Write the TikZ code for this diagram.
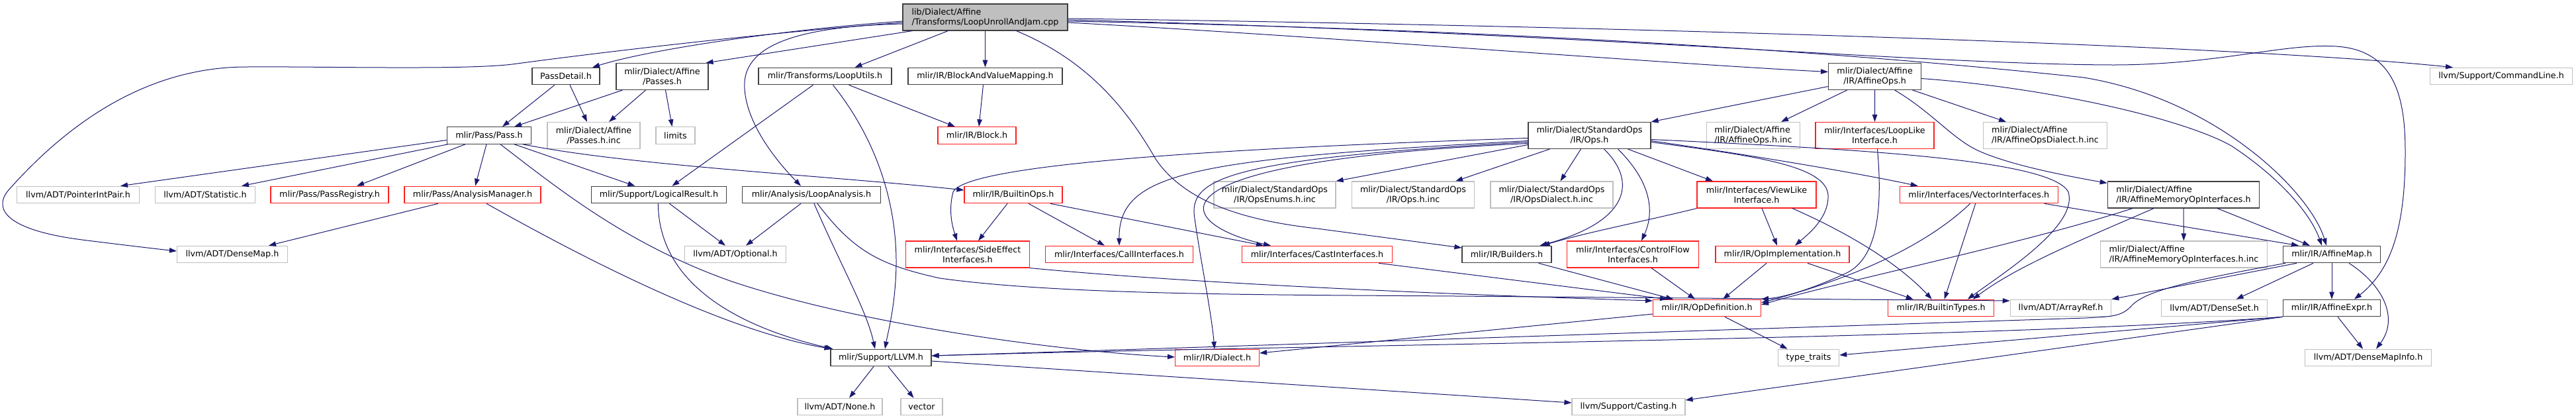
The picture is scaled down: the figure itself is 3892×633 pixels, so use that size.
\documentclass[tikz,border=0pt]{standalone}
\usepackage{fontspec}
\setmainfont{DejaVu Sans}
\usetikzlibrary{arrows.meta}
\definecolor{edgec}{HTML}{191970}
\definecolor{greyc}{HTML}{BFBFBF}
\definecolor{docc}{HTML}{404040}
\definecolor{redc}{HTML}{FF2020}
\begin{document}
\begin{tikzpicture}[x=1pt,y=-1pt,
  box/.style={draw, rectangle, line width=1.1pt, inner xsep=2pt, inner ysep=1pt, minimum height=25.5pt, font=\fontsize{12.7}{15}\selectfont, text=black},
  doc/.style={box, draw=docc},
  trunc/.style={box, draw=redc},
  ext/.style={box, draw=greyc},
  srcbox/.style={box, draw=docc, fill=greyc},
  two/.style={minimum height=40pt, align=center},
  twol/.style={minimum height=40pt, align=left},
  e/.style={draw=edgec, line width=1pt, -{Triangle[length=11pt,width=7.5pt]}},
]
\useasboundingbox (0,0) rectangle (3892,633);
% row 0
\node[srcbox, twol, minimum width=249pt] (src) at (1488.5,26) {lib/Dialect/Affine\\/Transforms/LoopUnrollAndJam.cpp};
% row 1
\node[doc, minimum width=102pt] (pdet) at (855,115) {PassDetail.h};
\node[doc, two, minimum width=139pt] (apass) at (1000.5,115.5) {mlir/Dialect/Affine\\/Passes.h};
\node[doc, minimum width=201pt] (lutil) at (1246.5,115) {mlir/Transforms/LoopUtils.h};
\node[doc, minimum width=233pt] (bvm) at (1488.5,115) {mlir/IR/BlockAndValueMapping.h};
\node[doc, two, minimum width=140pt] (aops) at (2832.6,115.5) {mlir/Dialect/Affine\\/IR/AffineOps.h};
\node[ext, minimum width=215pt] (cmd) at (3779,115) {llvm/Support/CommandLine.h};
% row 2
\node[doc, minimum width=127.5pt] (pass) at (739,204.5) {mlir/Pass/Pass.h};
\node[ext, two, minimum width=140pt] (pinc) at (897,204.5) {mlir/Dialect/Affine\\/Passes.h.inc};
\node[ext, minimum width=59pt] (lim) at (1020.5,204.5) {limits};
\node[trunc, minimum width=118pt] (block) at (1476,204.5) {mlir/IR/Block.h};
\node[doc, two, minimum width=185pt] (sops) at (2401.5,204.5) {mlir/Dialect/StandardOps\\/IR/Ops.h};
\node[ext, twol, minimum width=141pt] (aopsinc) at (2649,204.5) {mlir/Dialect/Affine\\/IR/AffineOps.h.inc};
\node[trunc, two, minimum width=179pt] (loop) at (2832.5,204.5) {mlir/Interfaces/LoopLike\\Interface.h};
\node[ext, twol, minimum width=186.5pt] (aopsd) at (3090,204.5) {mlir/Dialect/Affine\\/IR/AffineOpsDialect.h.inc};
% row 3
\node[ext, minimum width=184.5pt] (pip) at (118,294) {llvm/ADT/PointerIntPair.h};
\node[ext, minimum width=151pt] (stat) at (310,294) {llvm/ADT/Statistic.h};
\node[trunc, minimum width=178pt] (preg) at (498,294) {mlir/Pass/PassRegistry.h};
\node[trunc, minimum width=206pt] (aman) at (714,294) {mlir/Pass/AnalysisManager.h};
\node[doc, minimum width=204pt] (lres) at (995.4,294) {mlir/Support/LogicalResult.h};
\node[doc, minimum width=209pt] (lana) at (1226,294) {mlir/Analysis/LoopAnalysis.h};
\node[trunc, minimum width=148pt] (bops) at (1531,294) {mlir/IR/BuiltinOps.h};
\node[ext, two, minimum width=184pt] (senum) at (1926,294) {mlir/Dialect/StandardOps\\/IR/OpsEnums.h.inc};
\node[ext, two, minimum width=185pt] (sinc) at (2135,294) {mlir/Dialect/StandardOps\\/IR/Ops.h.inc};
\node[ext, two, minimum width=185pt] (sdial) at (2344.5,294) {mlir/Dialect/StandardOps\\/IR/OpsDialect.h.inc};
\node[trunc, two, minimum width=180pt] (view) at (2654,294) {mlir/Interfaces/ViewLike\\Interface.h};
\node[trunc, minimum width=239pt] (vec) at (2989.7,294) {mlir/Interfaces/VectorInterfaces.h};
\node[doc, twol, minimum width=229.5pt] (amem) at (3299,294) {mlir/Dialect/Affine\\/IR/AffineMemoryOpInterfaces.h};
% row 4
\node[ext, minimum width=167pt] (dmap) at (351,384) {llvm/ADT/DenseMap.h};
\node[ext, minimum width=153pt] (opt) at (1111,384) {llvm/ADT/Optional.h};
\node[trunc, two, minimum width=187pt] (side) at (1462,384) {mlir/Interfaces/SideEffect\\Interfaces.h};
\node[trunc, minimum width=222.6pt] (call) at (1691,384) {mlir/Interfaces/CallInterfaces.h};
\node[trunc, minimum width=227pt] (cast) at (1990,384) {mlir/Interfaces/CastInterfaces.h};
\node[doc, minimum width=135pt] (build) at (2276.5,384) {mlir/IR/Builders.h};
\node[trunc, two, minimum width=198.5pt] (cflow) at (2467,384) {mlir/Interfaces/ControlFlow\\Interfaces.h};
\node[trunc, minimum width=202pt] (opimpl) at (2693,384) {mlir/IR/OpImplementation.h};
\node[ext, twol, minimum width=252pt] (ameminc) at (3299.4,384) {mlir/Dialect/Affine\\/IR/AffineMemoryOpInterfaces.h.inc};
\node[doc, minimum width=147pt] (amap) at (3523,384) {mlir/IR/AffineMap.h};
% row 5
\node[trunc, minimum width=163pt] (opdef) at (2579,465) {mlir/IR/OpDefinition.h};
\node[trunc, minimum width=160pt] (btypes) at (2932.7,465) {mlir/IR/BuiltinTypes.h};
\node[ext, minimum width=152.5pt] (aref) at (3113.5,465) {llvm/ADT/ArrayRef.h};
\node[ext, minimum width=160pt] (dset) at (3345.6,465) {llvm/ADT/DenseSet.h};
\node[doc, minimum width=147pt] (aexpr) at (3523,465) {mlir/IR/AffineExpr.h};
% row 6
\node[doc, minimum width=152pt] (llvm) at (1331,540) {mlir/Support/LLVM.h};
\node[trunc, minimum width=127pt] (dial) at (1839,540) {mlir/IR/Dialect.h};
\node[ext, minimum width=92pt] (ttr) at (2732.6,540) {type\_traits};
\node[ext, minimum width=190.7pt] (dmi) at (3578,540) {llvm/ADT/DenseMapInfo.h};
% row 7
\node[ext, minimum width=128pt] (none) at (1269,614) {llvm/ADT/None.h};
\node[ext, minimum width=63pt] (vect) at (1392.5,614) {vector};
\node[ext, minimum width=171pt] (casting) at (2460.5,614) {llvm/Support/Casting.h};

% ---- edges from source
\draw[e] ([yshift=-8]src.west) .. controls (1150,50) and (900,80) .. (774,97) .. controls (700,106) and (480,100) .. (373,101) .. controls (210,101) and (90,200) .. (12,288) .. controls (-12,318) and (15,348) .. (124,362) .. controls (180,369) and (230,375) .. ([yshift=5]dmap.west);
\draw[e] ([yshift=-6]src.west) .. controls (1180,45) and (980,75) .. ([xshift=40]pdet.north);
\draw[e] ([xshift=-110]src.south) -- ([xshift=66]apass.north);
\draw[e] ([xshift=-56]src.south) -- ([xshift=45]lutil.north);
\draw[e] (src) -- (bvm);
\draw[e] ([yshift=-10]src.west) .. controls (1200,40) and (1120,70) .. (1125,134) .. controls (1128,185) and (1170,240) .. ([xshift=-16]lana.north);
\draw[e] ([xshift=47]src.south) .. controls (1640,90) and (1700,160) .. (1746,240) .. controls (1790,305) and (1880,333) .. (1990,345) -- ([yshift=10]build.west);
\draw[e] ([yshift=-8]src.east) .. controls (2000,55) and (2500,95) .. ([yshift=7]aops.west);
\draw[e] ([yshift=-6]src.east) .. controls (2300,45) and (2800,80) .. (3148,117) .. controls (3350,150) and (3490,290) .. ([xshift=-8]amap.north);
\draw[e] ([yshift=-4]src.east) .. controls (2400,50) and (2900,97) .. (3192,98) .. controls (3350,98) and (3450,65) .. (3530,70) .. controls (3620,76) and (3634,150) .. (3634,230) .. controls (3634,350) and (3610,410) .. ([xshift=34]aexpr.north);
\draw[e] ([yshift=-2]src.east) .. controls (2500,40) and (3400,70) .. ([xshift=-73]cmd.north);
% ---- row 1
\draw[e] ([xshift=-17]pdet.south) -- ([xshift=20]pass.north);
\draw[e] ([xshift=6]pdet.south) -- ([xshift=-10]pinc.north);
\draw[e] ([xshift=-60]apass.south) -- ([xshift=38]pass.north);
\draw[e] ([xshift=-25]apass.south) -- ([xshift=23]pinc.north);
\draw[e] ([xshift=5]apass.south) -- ([xshift=-5]lim.north);
\draw[e] ([xshift=-18]lutil.south) -- ([xshift=20]lres.north);
\draw[e] ([xshift=12]lutil.south) .. controls (1320,205) and (1355,300) .. (1354,400) .. controls (1353,460) and (1342,500) .. ([xshift=6]llvm.north);
\draw[e] ([xshift=36]lutil.south) -- ([xshift=-33]block.north);
\draw[e] ([xshift=-3]bvm.south) -- ([xshift=3]block.north);
\draw[e] ([yshift=-15]aops.west) -- (sops.north east);
\draw[e] ([xshift=-42]aops.south) -- ([xshift=42]aopsinc.north);
\draw[e] (aops) -- (loop);
\draw[e] ([xshift=57]aops.south) -- ([xshift=-59]aopsd.north);
\draw[e] ([xshift=30]aops.south) .. controls (2920,170) and (2950,210) .. (2990,228) .. controls (3040,250) and (3120,265) .. ([yshift=-3]amem.north west);
\draw[e] ([yshift=-3]aops.east) .. controls (3100,133) and (3300,180) .. (3371,220) .. controls (3440,265) and (3490,320) .. ([xshift=-15]amap.north);
% ---- StandardOps
\draw[e] ([yshift=-14]sops.west) -- (senum.north east);
\draw[e] ([xshift=-60]sops.south) -- ([xshift=64]sinc.north);
\draw[e] ([xshift=-13]sops.south) -- ([xshift=13]sdial.north);
\draw[e] ([xshift=22]sops.south) .. controls (2475,275) and (2460,335) .. ([xshift=50]build.north);
\draw[e] ([xshift=43]sops.south) .. controls (2495,275) and (2500,320) .. ([xshift=13]cflow.north);
\draw[e] ([xshift=58]sops.south) -- ([xshift=-66]view.north);
\draw[e] ([yshift=-4]sops.west) .. controls (1900,222) and (1460,245) .. (1440,290) .. controls (1432,320) and (1440,345) .. ([xshift=-16]side.north);
\draw[e] ([yshift=-8]sops.west) .. controls (1800,240) and (1690,260) .. (call.north);
\draw[e] ([yshift=-12]sops.west) .. controls (1700,245) and (1780,340) .. ([xshift=-70]cast.north);
\draw[e] ([yshift=-10]sops.west) .. controls (1850,240) and (1795,270) .. (1805,330) .. controls (1815,400) and (1830,470) .. ([xshift=-4]dial.north);
\draw[e] ([yshift=-8]sops.east) .. controls (2650,235) and (2800,260) .. ([xshift=-92]vec.north);
\draw[e] ([yshift=-10]sops.east) .. controls (2650,235) and (2760,250) .. (2762,295) .. controls (2763,330) and (2730,355) .. ([xshift=19]opimpl.north);
\draw[e] ([yshift=-6]sops.east) .. controls (2800,225) and (3100,240) .. (3125,290) .. controls (3140,340) and (3030,410) .. ([xshift=40]btypes.north);
% ---- Pass.h
\draw[e] ([yshift=-7]pass.west) -- ([xshift=64]pip.north);
\draw[e] ([xshift=2]pass.south west) -- ([xshift=55]stat.north);
\draw[e] ([xshift=-36]pass.south) -- ([xshift=41]preg.north);
\draw[e] ([xshift=-4]pass.south) -- ([xshift=4]aman.north);
\draw[e] ([xshift=38]pass.south) -- ([xshift=-36]lres.north);
\draw[e] ([xshift=51]pass.south) .. controls (950,250) and (1250,265) .. ([yshift=7]bops.west);
\draw[e] ([xshift=17]pass.south) .. controls (850,290) and (950,370) .. (1106,425) .. controls (1300,490) and (1600,530) .. ([yshift=1]dial.west);
\draw[e] ([xshift=-52]aman.south) -- ([xshift=55]dmap.north);
\draw[e] ([xshift=21]aman.south) .. controls (900,400) and (1100,500) .. ([xshift=2]llvm.north west);
\draw[e] ([xshift=16]lres.south) -- ([xshift=-15]opt.north);
\draw[e] ([xshift=-1]lres.south) .. controls (995,420) and (1100,490) .. ([xshift=4]llvm.north west);
\draw[e] ([xshift=-16]lana.south) -- ([xshift=16]opt.north);
\draw[e] ([xshift=4]lana.south) .. controls (1270,400) and (1310,470) .. ([xshift=-9]llvm.north);
\draw[e] ([xshift=9]lana.south) .. controls (1290,380) and (1330,400) .. (1420,420) .. controls (1600,445) and (1900,445) .. (2200,447) -- ([yshift=11]aref.west);
\draw[e] ([xshift=-9]bops.south) -- ([xshift=16]side.north);
\draw[e] ([xshift=23]bops.south) -- ([xshift=-22]call.north);
\draw[e] ([xshift=56]bops.south) -- ([xshift=-81]cast.north);
\draw[e] (side.south east) .. controls (1800,428) and (2200,445) .. ([yshift=11]opdef.west);
\draw[e] ([xshift=93]cast.south) -- ([xshift=-60]opdef.north);
\draw[e] ([xshift=48]build.south) -- ([xshift=-51]opdef.north);
\draw[e] ([xshift=28]cflow.south) -- ([xshift=-18]opdef.north);
\draw[e] ([xshift=-24]opimpl.south) -- ([xshift=24]opdef.north);
\draw[e] ([xshift=38]opimpl.south) -- ([xshift=-42]btypes.north);
\draw[e] ([xshift=8]view.south) -- ([xshift=-8]opimpl.north);
\draw[e] (view.south west) .. controls (2480,335) and (2400,350) .. ([xshift=54]build.north);
\draw[e] ([xshift=54]view.south) .. controls (2800,355) and (2870,400) .. ([xshift=-14]btypes.north);
\draw[e] ([xshift=-13]vec.south) .. controls (2900,380) and (2780,425) .. ([yshift=8]opdef.east);
\draw[e] ([xshift=-5]vec.south) -- ([xshift=5]btypes.north);
\draw[e] ([xshift=99]vec.south) -- ([xshift=-50]amap.north);
\draw[e] ([xshift=4]loop.south) .. controls (2845,320) and (2835,390) .. (2790,412) .. controls (2740,435) and (2700,448) .. (opdef.north east);
\draw[e] ([xshift=-77]amem.south) .. controls (3050,370) and (2800,420) .. ([yshift=5]opdef.east);
\draw[e] ([xshift=-45]amem.south) .. controls (3150,360) and (3050,400) .. ([xshift=48]btypes.north);
\draw[e] (amem) -- (ameminc);
\draw[e] ([xshift=51]amem.south) -- ([xshift=-33]amap.north);
% ---- AffineMap / AffineExpr
\draw[e] (amap) -- (aexpr);
\draw[e] ([xshift=-28]amap.south) -- ([xshift=33]dset.north);
\draw[e] ([xshift=26]amap.south) .. controls (3600,430) and (3625,480) .. ([xshift=12]dmi.north);
\draw[e] ([xshift=-53]amap.south) -- (aref.north east);
\draw[e] ([xshift=-70]amap.south) .. controls (3300,425) and (3240,440) .. (3220,462) .. controls (3205,478) and (3190,478) .. (3150,480) .. controls (2600,498) and (1800,525) .. ([yshift=3]llvm.east);
\draw[e] ([xshift=9]aexpr.south) -- ([xshift=-8]dmi.north);
\draw[e] (aexpr.south west) -- ([yshift=4]ttr.east);
\draw[e] (aexpr.south west) .. controls (3000,512) and (2000,520) .. ([yshift=3]llvm.east);
\draw[e] (aexpr.south west) -- ([yshift=10]casting.east);
% ---- OpDefinition / LLVM
\draw[e] ([yshift=-9]opdef.west) -- ([yshift=7]dial.east);
\draw[e] ([xshift=27]opdef.south) -- ([xshift=-32]ttr.north);
\draw[e] ([xshift=-11]llvm.south) -- ([xshift=14]none.north);
\draw[e] ([xshift=11]llvm.south) -- ([xshift=-12]vect.north);
\draw[e] ([yshift=-5]llvm.east) -- ([yshift=6]casting.west);
\end{tikzpicture}
\end{document}
